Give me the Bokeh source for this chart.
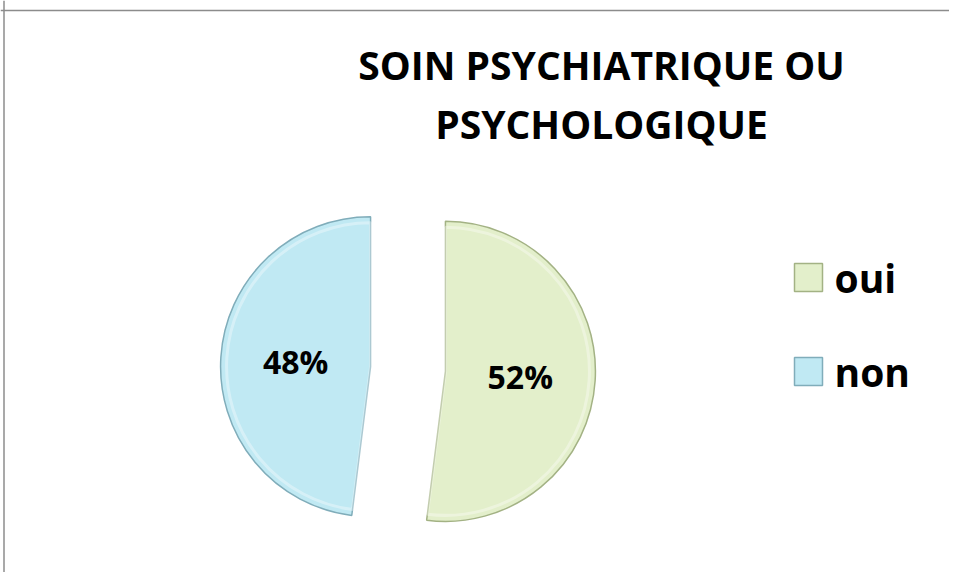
import math
from bokeh.plotting import figure
from bokeh.models import Range1d, ColumnDataSource, Span
from bokeh.core.properties import value
from bokeh.embed import file_html
from bokeh.resources import INLINE

# ---- data ----
categories = ["oui", "non"]
percents = [52, 48]
fill_colors = ["#E3EFCB", "#C0E9F3"]
edge_colors = ["#A3B284", "#80ADBA"]
title_lines = ["SOIN PSYCHIATRIQUE OU", "PSYCHOLOGIQUE"]

W, H = 949, 572
FONT = "Open Sans"

p = figure(width=W, height=H, output_backend="svg", toolbar_location=None,
           x_range=Range1d(0, W), y_range=Range1d(0, H), min_border=0,
           background_fill_color="white", border_fill_color="white")
p.axis.visible = False
p.grid.visible = False
p.outline_line_color = None

# chart frame (top and left edges visible as in the reference)
p.add_layout(Span(location=3.5, dimension="height", line_color="#8C8C8C", line_width=1.5))
p.add_layout(Span(location=562, dimension="width", line_color="#8C8C8C", line_width=1.5))

# pie geometry (layout)
cx, cy, r, explode = 407.5, 203.5, 150, 37.5

total = sum(percents)
start = math.pi / 2
xs, ys, sa, ea, lx, ly, labels = [], [], [], [], [], [], []
for v in percents:
    sweep = 2 * math.pi * v / total
    a0, a1 = start - sweep, start
    mid = (a0 + a1) / 2
    ox = cx + explode * math.cos(mid)
    oy = cy + explode * math.sin(mid)
    xs.append(ox); ys.append(oy); sa.append(a0); ea.append(a1)
    lx.append(ox + 0.5 * r * math.cos(mid))
    ly.append(oy + 0.5 * r * math.sin(mid))
    labels.append(f"{v}%")
    start = a0

src = ColumnDataSource(dict(x=xs, y=ys, sa=sa, ea=ea, fill=fill_colors,
                            edge=edge_colors, lx=lx, ly=ly, lab=labels))
p.wedge(x="x", y="y", radius=r, start_angle="sa", end_angle="ea",
        fill_color="fill", line_color="edge", line_width=1.5, source=src)
# subtle inner highlight for bevel look
p.wedge(x="x", y="y", radius=r - 6, start_angle="sa", end_angle="ea",
        fill_color=None, line_color="white", line_alpha=0.35, line_width=3, source=src)

p.text(x="lx", y="ly", text="lab", source=src, text_font=value(FONT),
       text_font_style="bold", text_font_size="32px", text_align="center",
       text_baseline="middle", text_color="black")

# title
p.text(x=[601] * len(title_lines), y=[508 - 59 * i for i in range(len(title_lines))],
       text=title_lines, text_font=value(FONT), text_font_style="bold",
       text_font_size="39px", text_align="center", text_baseline="middle",
       text_color="black")

# legend
leg_y = [295 - 94 * i for i in range(len(categories))]
p.rect(x=[808] * len(categories), y=leg_y, width=28, height=28,
       fill_color=fill_colors, line_color=edge_colors, line_width=1.5)
p.text(x=[834] * len(categories), y=leg_y, text=categories,
       text_font=value(FONT), text_font_style="bold", text_font_size="39px",
       text_align="left", text_baseline="middle", text_color="black")

open("out.html", "w").write(file_html(p, INLINE))
